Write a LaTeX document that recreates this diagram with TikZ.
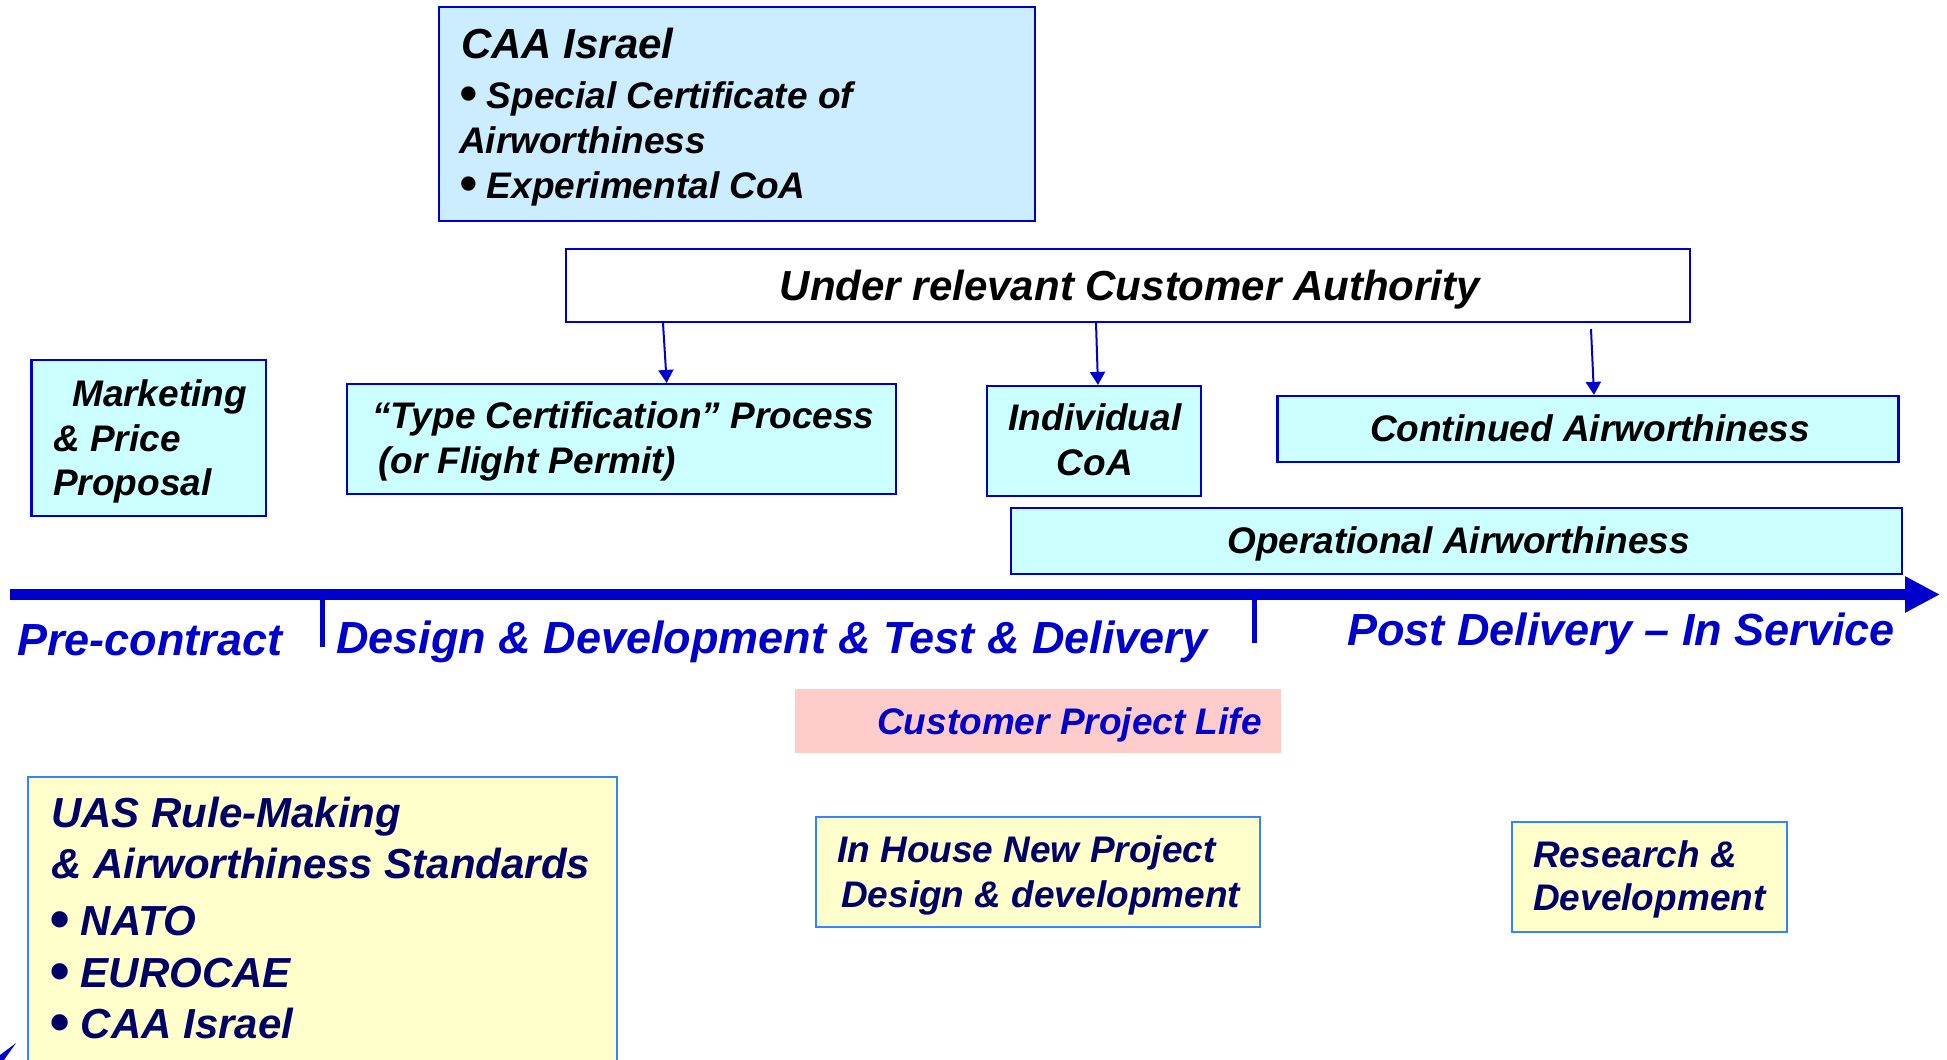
\documentclass[tikz,border=0pt]{standalone}
\usepackage{fontspec}
\setmainfont{Liberation Sans}
\usetikzlibrary{arrows.meta}
\definecolor{tlblue}{HTML}{0000CC}
\definecolor{caafill}{HTML}{CCECFF}
\definecolor{cyanfill}{HTML}{CCFFFF}
\definecolor{pinkfill}{HTML}{FFCCCC}
\definecolor{yelfill}{HTML}{FFFFCC}
\definecolor{yelline}{HTML}{3385FF}
\definecolor{navy}{HTML}{000066}
\newcommand\mybul{\raisebox{-0.08em}{\scalebox{1.35}{•}}}
\begin{document}
\begin{tikzpicture}[x=1pt,y=-1pt,
  box/.style={draw=tlblue, line width=2.2pt, inner sep=0pt, rectangle},
  ybox/.style={draw=yelline, fill=yelfill, line width=2.2pt, inner sep=0pt, rectangle},
  pbox/.style={fill=pinkfill, inner sep=0pt, rectangle},
  tbig/.style={inner sep=0pt, anchor=base west, text=tlblue, font=\bfseries\itshape\fontsize{45}{54}\selectfont},
  tmid/.style={inner sep=0pt, anchor=base west, font=\bfseries\itshape\fontsize{42}{50}\selectfont},
  tsm/.style={inner sep=0pt, anchor=base west, font=\bfseries\itshape\fontsize{37}{44}\selectfont},
  arr/.style={draw=tlblue, line width=2pt, -{Triangle[width=15pt,length=13pt]}},
]
\fill[white] (0,0) rectangle (1947,1060);
\clip (0,0) rectangle (1947,1060);

% ---------- boxes ----------
\node[box, fill=caafill, minimum width=596pt, minimum height=214pt] (caa) at (736.6,113.7) {};
\node[box, fill=white, minimum width=1124pt, minimum height=73pt] (under) at (1128,285.5) {};
\node[box, fill=cyanfill, minimum width=234.5pt, minimum height=156pt] (mkt) at (148.75,438) {};
\node[box, fill=cyanfill, minimum width=549pt, minimum height=110pt] (type) at (621.5,439) {};
\node[box, fill=cyanfill, minimum width=214pt, minimum height=110pt] (indiv) at (1094,441) {};
\node[box, fill=cyanfill, minimum width=621pt, minimum height=66pt] (cont) at (1588,429) {};
\node[box, fill=cyanfill, minimum width=891pt, minimum height=66pt] (oper) at (1456.5,541) {};
\node[pbox, minimum width=486pt, minimum height=64pt] (cpl) at (1038,721) {};
\node[ybox, minimum width=444pt, minimum height=110pt] (inhouse) at (1038,872) {};
\node[ybox, minimum width=275pt, minimum height=110pt] (rnd) at (1649.5,877) {};
\node[ybox, minimum width=589pt, minimum height=313pt] (uas) at (322.5,933.5) {};

% ---------- texts in boxes ----------
\node[tmid] (caa1) at (461,58) {CAA Israel};
\node[tsm] (caa2) at (459,108) {\mybul{} Special Certificate of};
\node[tsm] (caa3) at (459,153) {Airworthiness};
\node[tsm] (caa4) at (459,198) {\mybul{} Experimental CoA};

\node[tmid, anchor=base] (undert) at (1130,300) {Under relevant Customer Authority};

\node[tsm] (mkt1) at (72,406) {Marketing};
\node[tsm] (mkt2) at (53,451) {\& Price};
\node[tsm] (mkt3) at (53,495) {Proposal};

\node[tsm] (type1) at (372,428) {“Type Certification” Process};
\node[tsm] (type2) at (378,473) {(or Flight Permit)};

\node[tsm, anchor=base] (indiv1) at (1095,430) {Individual};
\node[tsm, anchor=base] (indiv2) at (1095,475) {CoA};

\node[tsm, anchor=base] (contt) at (1590,441) {Continued Airworthiness};
\node[tsm, anchor=base] (opert) at (1458.5,553) {Operational Airworthiness};

\node[tsm, text=tlblue] (cplt) at (877,734) {Customer Project Life};

\node[tsm, text=navy] (ih1) at (837,862) {In House New Project};
\node[tsm, text=navy] (ih2) at (841,907) {Design \& development};

\node[tsm, text=navy] (rnd1) at (1533,867) {Research \&};
\node[tsm, text=navy] (rnd2) at (1533,910) {Development};

\node[tmid, text=navy] (uas1) at (51,827) {UAS Rule-Making};
\node[tmid, text=navy] (uas2) at (51,878) {\& Airworthiness Standards};
\node[tmid, text=navy] (uas3) at (49,935) {\mybul{} NATO};
\node[tmid, text=navy] (uas4) at (49,987) {\mybul{} EUROCAE};
\node[tmid, text=navy] (uas5) at (49,1038) {\mybul{} CAA Israel};

% ---------- connectors ----------
\draw[arr] (under.south -| 663,0) -- (type.north -| 666.7,0);
\draw[arr] (under.south -| 1096,0) -- (indiv.north -| 1098,0);
\coordinate (a3start) at (1591,329);
\draw[arr] (a3start) -- (cont.north -| 1594,0);

% ---------- timeline ----------
\coordinate (tlA) at (10,594.5);
\coordinate (tlB) at (1940,594.5);
\draw[draw=tlblue, line width=11.5pt, -{Triangle[width=34pt,length=35pt]}] (tlA) -- (tlB);
\fill[tlblue] (320,598) rectangle (325,647);
\fill[tlblue] (1251.5,598) rectangle (1256.5,643);

\node[tbig] (pre) at (17,655) {Pre-contract};
\node[tbig] (dd) at (336,653) {Design \& Development \& Test \& Delivery};
\node[tbig] (post) at (1347,645) {Post Delivery – In Service};

% small fragment at bottom-left corner
\fill[tlblue] (0,1055) -- (16,1043) -- (4,1060) -- (0,1060) -- cycle;
\end{tikzpicture}
\end{document}
